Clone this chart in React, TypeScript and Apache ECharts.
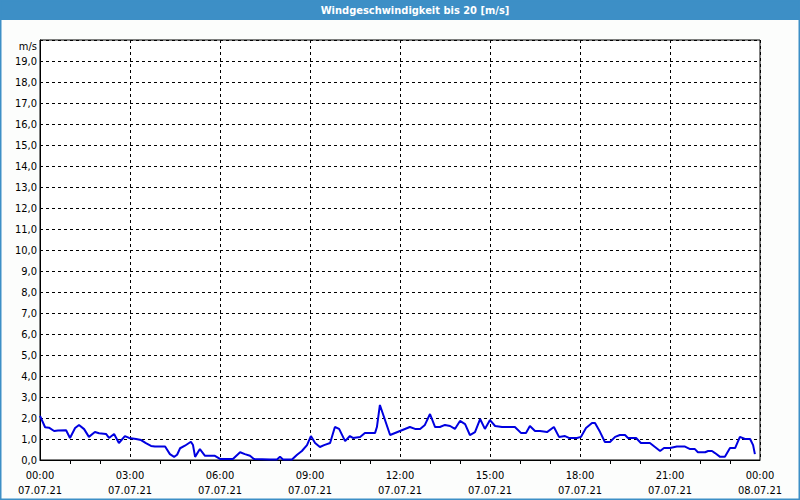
import React, { useEffect, useRef } from "react";
import * as echarts from "echarts";

const titleText = "Windgeschwindigkeit bis 20 [m/s]";
const yUnit = "m/s";
const xTickTimes = ["00:00", "03:00", "06:00", "09:00", "12:00", "15:00", "18:00", "21:00", "00:00"];
const xTickDates = ["07.07.21", "07.07.21", "07.07.21", "07.07.21", "07.07.21", "07.07.21", "07.07.21", "07.07.21", "08.07.21"];

// hours since 07.07.21 00:00
const hours = [
  0.0, 0.17, 0.3, 0.47, 0.6, 0.87, 1.0, 1.17, 1.3, 1.47, 1.63, 1.83, 1.97, 2.2, 2.3, 2.47, 2.63, 2.83, 2.97,
  3.2, 3.37, 3.53, 3.7, 3.83, 4.17, 4.33, 4.47, 4.57, 4.67, 4.83, 5.03, 5.1, 5.17, 5.33, 5.5, 5.83,
  6.0, 6.43, 6.67, 6.83, 7.0, 7.13, 7.67, 7.9, 8.0, 8.1, 8.4, 8.57, 8.73, 8.9,
  9.03, 9.17, 9.33, 9.47, 9.67, 9.83, 9.97, 10.17, 10.33, 10.43, 10.67, 10.83, 11.17, 11.23, 11.33, 11.67,
  12.0, 12.33, 12.5, 12.67, 12.83, 13.0, 13.17, 13.33, 13.5, 13.67, 13.83, 14.0, 14.17, 14.33, 14.5, 14.67, 14.83,
  15.0, 15.17, 15.4, 15.83, 16.03, 16.2, 16.33, 16.5, 16.67, 16.9, 17.13, 17.3, 17.5, 17.63, 17.9,
  18.03, 18.2, 18.4, 18.5, 18.67, 18.83, 19.0, 19.17, 19.33, 19.5, 19.6, 19.87, 20.03, 20.33, 20.5, 20.67, 20.8,
  21.0, 21.23, 21.5, 21.67, 21.83, 21.93, 22.17, 22.27, 22.4, 22.5, 22.67, 22.83, 23.0, 23.17, 23.33, 23.5, 23.67, 23.77, 23.83,
];
const speeds = [
  2.1, 1.56, 1.54, 1.38, 1.41, 1.42, 1.05, 1.52, 1.67, 1.47, 1.1, 1.33, 1.27, 1.24, 1.05, 1.24, 0.81, 1.14, 1.05,
  1.0, 0.95, 0.8, 0.67, 0.64, 0.64, 0.28, 0.15, 0.25, 0.56, 0.68, 0.87, 0.71, 0.15, 0.52, 0.2, 0.2,
  0.05, 0.05, 0.37, 0.28, 0.2, 0.05, 0.02, 0.02, 0.15, 0.02, 0.02, 0.25, 0.43, 0.71,
  1.14, 0.81, 0.62, 0.71, 0.81, 1.57, 1.48, 0.9, 1.14, 1.05, 1.1, 1.29, 1.29, 1.57, 2.62, 1.19,
  1.38, 1.57, 1.48, 1.48, 1.67, 2.19, 1.57, 1.57, 1.67, 1.62, 1.48, 1.86, 1.71, 1.19, 1.33, 1.95, 1.48,
  1.9, 1.62, 1.57, 1.57, 1.29, 1.29, 1.62, 1.38, 1.38, 1.33, 1.57, 1.1, 1.14, 1.05, 1.05,
  1.1, 1.52, 1.76, 1.76, 1.33, 0.86, 0.86, 1.1, 1.19, 1.19, 1.05, 1.05, 0.81, 0.81, 0.62, 0.43, 0.57,
  0.57, 0.64, 0.64, 0.52, 0.52, 0.37, 0.37, 0.43, 0.43, 0.33, 0.15, 0.15, 0.57, 0.57, 1.1, 1.0, 1.0, 0.71, 0.28,
];

const FONT = "'DejaVu Sans Condensed', 'DejaVu Sans', sans-serif";

export default function App() {
  const ref = useRef<HTMLDivElement>(null);
  useEffect(() => {
    if (!ref.current) return;
    const chart = echarts.init(ref.current, undefined, { renderer: "svg" });
    const data = hours.map((h, i) => [h, speeds[i]]);
    chart.setOption({
      animation: false,
      backgroundColor: "#fcfdfc",
      grid: {
        left: 40,
        right: 40,
        top: 40,
        bottom: 40,
        show: true,
        backgroundColor: "#ffffff",
        borderColor: "#000000",
        borderWidth: 1,
      },
      xAxis: {
        type: "value",
        min: 0,
        max: 24,
        interval: 3,
        axisLine: { show: true, lineStyle: { color: "#000", width: 1 } },
        axisTick: { show: false },
        minorTick: { show: true, splitNumber: 3, length: 4, lineStyle: { color: "#000", width: 1 } },
        splitLine: { show: true, lineStyle: { color: "#000", type: [3, 3], width: 1 } },
        axisLabel: {
          color: "#000",
          fontFamily: FONT,
          fontSize: 11,
          lineHeight: 15,
          margin: 8,
          formatter: (v: number) => {
            const i = Math.round(v / 3);
            return xTickTimes[i] + "\n" + xTickDates[i];
          },
        },
      },
      yAxis: {
        type: "value",
        min: 0,
        max: 20,
        interval: 1,
        axisLine: { show: true, lineStyle: { color: "#000", width: 1 } },
        axisTick: { show: false },
        splitLine: { show: true, lineStyle: { color: "#000", type: [3, 3], width: 1 } },
        axisLabel: {
          color: "#000",
          fontFamily: FONT,
          fontSize: 11,
          margin: 3,
          formatter: (v: number) => (v >= 20 ? "" : v.toFixed(1).replace(".", ",")),
        },
      },
      graphic: [
        {
          type: "rect",
          left: 0,
          top: 0,
          shape: { x: 0, y: 0, width: 800, height: 20 },
          style: { fill: "#3d8fc6" },
          silent: true,
        },
        {
          type: "rect",
          shape: { x: 0.5, y: 0.5, width: 799, height: 499 },
          style: { fill: "none", stroke: "#3d8fc6", lineWidth: 2 },
          silent: true,
        },
        {
          type: "text",
          x: 415,
          y: 10,
          style: {
            text: titleText,
            fill: "#ffffff",
            font: `bold 11px ${FONT}`,
            textAlign: "center",
            textVerticalAlign: "middle",
          },
          silent: true,
        },
        {
          type: "text",
          x: 37,
          y: 46,
          style: {
            text: yUnit,
            fill: "#000",
            font: `11px ${FONT}`,
            textAlign: "right",
            textVerticalAlign: "middle",
          },
          silent: true,
        },
      ],
      series: [
        {
          type: "line",
          data,
          showSymbol: false,
          symbol: "none",
          lineStyle: { color: "#0000e0", width: 2 },
          clip: true,
        },
      ],
    });
    return () => chart.dispose();
  }, []);
  return (
    <div
      ref={ref}
      style={{ position: "fixed", left: 0, top: 0, width: 800, height: 500 }}
    />
  );
}
